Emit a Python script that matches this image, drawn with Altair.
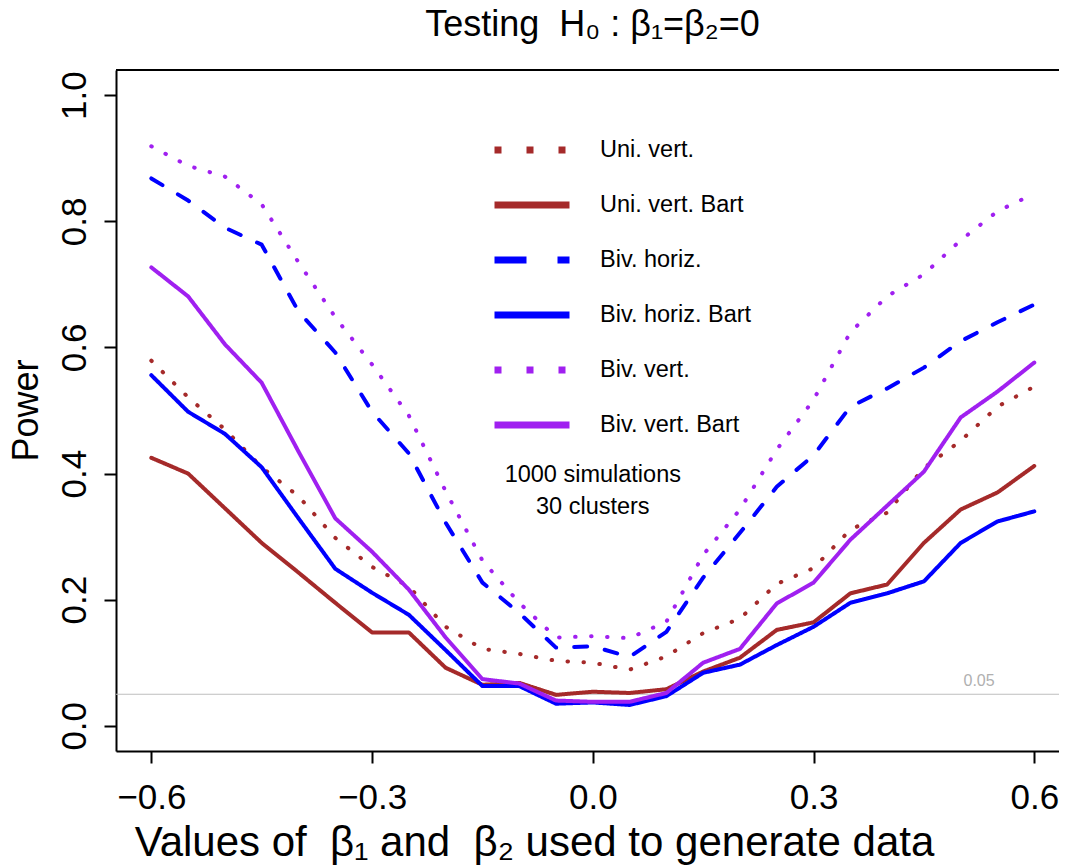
import altair as alt
import pandas as pd

# ---------------- data ----------------
beta = [-0.6, -0.55, -0.5, -0.45, -0.4, -0.35, -0.3, -0.25, -0.2, -0.15, -0.1, -0.05,
        0.0, 0.05, 0.1, 0.15, 0.2, 0.25, 0.3, 0.35, 0.4, 0.45, 0.5, 0.55, 0.6]

uni_vert = [0.579, 0.521, 0.470, 0.410, 0.364, 0.298, 0.252, 0.221, 0.157, 0.122, 0.114, 0.103,
            0.100, 0.089, 0.110, 0.147, 0.170, 0.225, 0.250, 0.311, 0.338, 0.409, 0.452, 0.506, 0.538]
uni_vert_bart = [0.425, 0.400, 0.345, 0.290, 0.243, 0.195, 0.148, 0.148, 0.092, 0.065, 0.068, 0.049,
                 0.054, 0.052, 0.058, 0.086, 0.108, 0.152, 0.164, 0.210, 0.224, 0.290, 0.343, 0.370, 0.412]
biv_horiz = [0.868, 0.833, 0.790, 0.763, 0.657, 0.592, 0.498, 0.432, 0.322, 0.227, 0.179, 0.124,
             0.126, 0.109, 0.149, 0.235, 0.306, 0.379, 0.429, 0.506, 0.535, 0.568, 0.610, 0.640, 0.668]
biv_horiz_bart = [0.556, 0.498, 0.463, 0.410, 0.329, 0.249, 0.211, 0.176, 0.120, 0.063, 0.063, 0.035,
                  0.037, 0.033, 0.047, 0.084, 0.097, 0.128, 0.157, 0.195, 0.210, 0.229, 0.290, 0.324, 0.340]
biv_vert = [0.919, 0.888, 0.871, 0.827, 0.735, 0.648, 0.573, 0.492, 0.372, 0.262, 0.195, 0.140,
            0.142, 0.139, 0.165, 0.271, 0.343, 0.438, 0.517, 0.624, 0.681, 0.716, 0.770, 0.816, 0.844]
biv_vert_bart = [0.727, 0.681, 0.605, 0.544, 0.435, 0.329, 0.276, 0.216, 0.140, 0.074, 0.067, 0.040,
                 0.038, 0.038, 0.052, 0.100, 0.122, 0.194, 0.227, 0.295, 0.349, 0.403, 0.489, 0.530, 0.576]

series_names = ["Uni. vert.", "Uni. vert. Bart", "Biv. horiz.", "Biv. horiz. Bart",
                "Biv. vert.", "Biv. vert. Bart"]
series_values = [uni_vert, uni_vert_bart, biv_horiz, biv_horiz_bart, biv_vert, biv_vert_bart]

x_ticks = [-0.6, -0.3, 0.0, 0.3, 0.6]
y_ticks = [0.0, 0.2, 0.4, 0.6, 0.8, 1.0]

ref_level = [0.05]
ref_label = ["0.05"]
ref_label_x = [0.525]

note_lines = ["1000 simulations", "30 clusters"]
note_x = [0.0, 0.0]
note_y = [0.398, 0.347]

NB = "\u00a0"
title_text = "Testing" + NB + " H\u2080 : \u03b2\u2081=\u03b2\u2082=0"
x_title = "Values of" + NB + " \u03b2\u2081 and" + NB + " \u03b2\u2082 used to generate data"
y_title = "Power"

# ---------------- styles ----------------
FONT = "Liberation Sans"
colors = ["#A52A2A", "#A52A2A", "#0000FF", "#0000FF", "#A020F0", "#A020F0"]
dash_plot = [[0.5, 15.5], [1, 0], [13, 18], [1, 0], [0.5, 15.5], [1, 0]]
dash_legend = [[7, 25], [1, 0], [32, 31], [1, 0], [7, 25], [1, 0]]
widths = [4, 4, 5, 4, 4, 4]

W, H = 943, 681
X_DOM = [-0.648, -0.648 + W / 735.8]
Y_DOM = [-0.04, 1.04]

rows = []
for name, vals in zip(series_names, series_values):
    for b, v in zip(beta, vals):
        rows.append({"beta": b, "power": v, "series": name})
df = pd.DataFrame(rows)

xs = alt.Scale(domain=X_DOM, nice=False, zero=False)
ys = alt.Scale(domain=Y_DOM, nice=False, zero=False)

x_enc = alt.X("beta:Q", scale=xs,
              axis=alt.Axis(values=x_ticks, format=".1f", title=x_title,
                            labelFontSize=35, labelFont=FONT, labelColor="black",
                            labelBaseline="alphabetic", labelPadding=45, labelFlush=False,
                            tickSize=12, tickWidth=2, tickColor="black",
                            domainColor="black", domainWidth=2, grid=False,
                            titleFont=FONT, titleFontSize=42, titleFontWeight="normal",
                            titleColor="black", titleX=418, titleY=104,
                            titleBaseline="alphabetic", titleAlign="center", titleLimit=0))
y_enc = alt.Y("power:Q", scale=ys,
              axis=alt.Axis(values=y_ticks, format=".1f", title=y_title,
                            labelFontSize=35, labelFont=FONT, labelColor="black",
                            labelAngle=270, labelAlign="center", labelBaseline="alphabetic",
                            labelPadding=19, labelFlush=False,
                            tickSize=12, tickWidth=2, tickColor="black",
                            domainColor="black", domainWidth=2, grid=False,
                            titleFont=FONT, titleFontSize=36, titleFontWeight="normal",
                            titleColor="black", titleAngle=270, titleX=-90, titleY=340,
                            titleBaseline="middle", titleAlign="center"))

lines = alt.Chart(df).mark_line(strokeCap="round", strokeJoin="round").encode(
    x=x_enc,
    y=y_enc,
    color=alt.Color("series:N", scale=alt.Scale(domain=series_names, range=colors), legend=None),
    strokeDash=alt.StrokeDash("series:N", scale=alt.Scale(domain=series_names, range=dash_plot), legend=None),
    strokeWidth=alt.StrokeWidth("series:N", scale=alt.Scale(domain=series_names, range=widths), legend=None),
)

leg = alt.Legend(orient="none", legendX=375, legendY=39, title=None,
                 symbolType="stroke", symbolSize=5625, symbolStrokeWidth=7,
                 labelFont=FONT, labelFontSize=23.5, labelColor="black", labelOffset=27,
                 labelLimit=0, rowPadding=-20.4, padding=0)

legend_layer = alt.Chart(df).transform_filter("false").mark_line().encode(
    x=alt.X("beta:Q", scale=xs),
    y=alt.Y("power:Q", scale=ys),
    color=alt.Color("series:N", scale=alt.Scale(domain=series_names, range=colors), legend=leg),
    strokeDash=alt.StrokeDash("series:N", scale=alt.Scale(domain=series_names, range=dash_legend), legend=leg),
)

ref_df = pd.DataFrame({"level": ref_level, "label": ref_label, "lx": ref_label_x})
ref_rule = alt.Chart(ref_df).mark_rule(color="#BEBEBE", strokeWidth=1.2).encode(
    y=alt.Y("level:Q", scale=ys))
ref_text = alt.Chart(ref_df).mark_text(color="#B0B0B0", font=FONT, fontSize=16,
                                       align="center", baseline="bottom", dy=-5).encode(
    x=alt.X("lx:Q", scale=xs), y=alt.Y("level:Q", scale=ys), text="label:N")

note_df = pd.DataFrame({"t": note_lines, "nx": note_x, "ny": note_y})
notes = alt.Chart(note_df).mark_text(font=FONT, fontSize=23.5, color="black",
                                     align="center", baseline="middle").encode(
    x=alt.X("nx:Q", scale=xs), y=alt.Y("ny:Q", scale=ys), text="t:N")

top_border = alt.Chart(ref_df).mark_rule(color="black", strokeWidth=2).encode(
    y=alt.value(0), x=alt.value(0), x2=alt.value(W))

chart = alt.layer(ref_rule, ref_text, lines, legend_layer, notes, top_border).resolve_scale(
    color="independent", strokeDash="independent", strokeWidth="independent"
).properties(
    width=W, height=H,
    title=alt.Title(title_text, font=FONT, fontSize=36, fontWeight="normal", color="black",
                    anchor="middle", offset=25, dx=5),
    autosize=alt.AutoSizeParams(type="none"),
    padding={"left": 108, "top": 62, "right": 0, "bottom": 116},
).configure_view(stroke=None).configure(background="white")

chart.save("out.html", embed_options={"renderer": "svg", "actions": False})
